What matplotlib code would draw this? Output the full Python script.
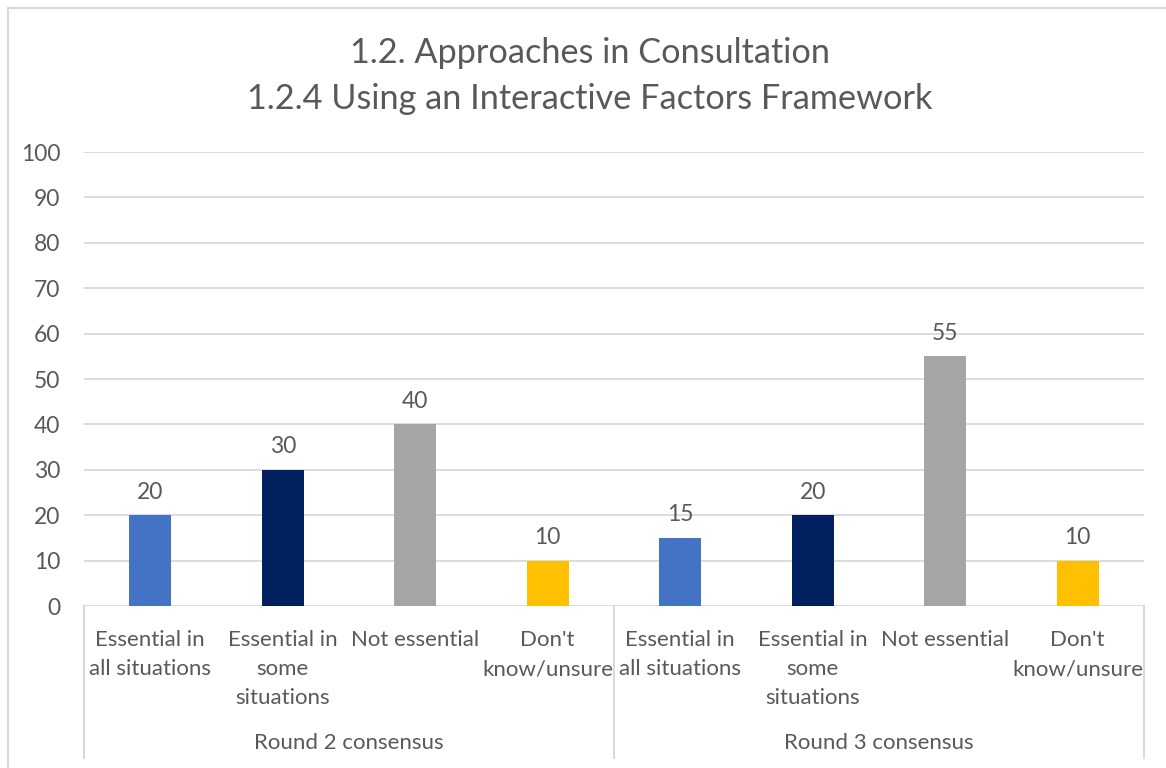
import matplotlib.pyplot as plt
from matplotlib.lines import Line2D
import matplotlib.transforms as mtransforms

plt.rcParams['font.family'] = ['Lato', 'DejaVu Sans']

TITLE = "1.2. Approaches in Consultation\n1.2.4 Using an Interactive Factors Framework"
groups = ["Round 2 consensus", "Round 3 consensus"]
categories = ["Essential in\nall situations", "Essential in\nsome\nsituations",
              "Not essential", "Don't\nknow/unsure"]
round2 = [20, 30, 40, 10]
round3 = [15, 20, 55, 10]
bar_colors = ["#4472c4", "#002060", "#a5a5a5", "#ffc000"]

TEXT = "#595959"
GRID = "#d9d9d9"

fig = plt.figure(figsize=(11.66, 7.68), dpi=100)
ax = fig.add_axes([0.0720, 0.2109, 0.9091, 0.5911])

values = round2 + round3
xs = list(range(len(values)))
colors = bar_colors * len(groups)
bars = ax.bar(xs, values, width=0.32, color=colors, zorder=3)
for x, v in zip(xs, values):
    ax.annotate(str(v), (x, v), xytext=(0, 9), textcoords="offset points",
                ha="center", va="bottom", fontsize=16.5, color=TEXT)

ax.set_xlim(-0.5, len(values) - 0.5)
ax.set_ylim(0, 100)
ax.set_yticks(range(0, 101, 10))
ax.set_xticks([])
ax.grid(axis="y", color=GRID, lw=1.3, zorder=0)
for s in ax.spines.values():
    s.set_visible(False)
ax.tick_params(axis="y", length=0, pad=17, labelsize=16.5, labelcolor=TEXT)

trans = mtransforms.blended_transform_factory(ax.transData, ax.transAxes)
for i, lab in enumerate(categories * len(groups)):
    ax.text(i, -0.053, lab, transform=trans, ha="center", va="top",
            fontsize=16, color=TEXT, linespacing=1.56)
for g, name in enumerate(groups):
    ax.text(g * 4 + 1.5, -0.302, name, transform=trans, ha="center",
            va="center", fontsize=16, color=TEXT)
for xb in (-0.5, 3.5, 7.5):
    ax.add_line(Line2D([xb, xb], [0, -0.335], transform=trans, color=GRID,
                       lw=1.5, clip_on=False))

# chart frame (top and left edges)
fig.add_artist(Line2D([8 / 1166, 1], [1 - 8 / 768] * 2, transform=fig.transFigure,
                      color=GRID, lw=1.5))
fig.add_artist(Line2D([8 / 1166] * 2, [0, 1 - 8 / 768], transform=fig.transFigure,
                      color=GRID, lw=1.5))

fig.text(0.506, 0.901, TITLE, ha="center", va="center", fontsize=24.7,
         color=TEXT, linespacing=1.52)

fig.savefig("out.png", dpi=100)
